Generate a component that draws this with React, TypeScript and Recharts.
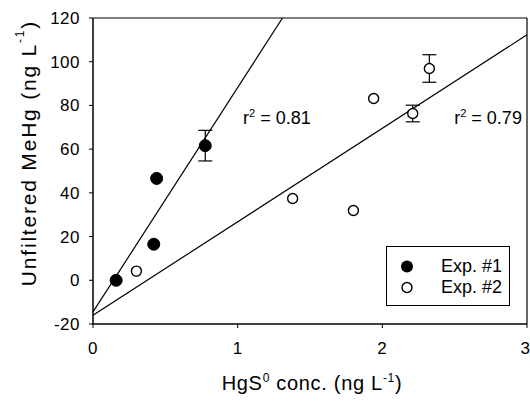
import React from 'react';
import { ScatterChart, Scatter, XAxis, YAxis, ErrorBar, ReferenceLine, ReferenceDot, Label } from 'recharts';

const exp1X = [0.16, 0.42, 0.44, 0.776];
const exp1Y = [0, 16.5, 46.6, 61.6];
const exp1Err = [0, 0, 0, 7];

const exp2X = [0.3, 1.38, 1.8, 1.94, 2.21, 2.325];
const exp2Y = [4.2, 37.4, 31.9, 83.2, 76.3, 96.9];
const exp2Err = [0, 0, 0, 0, 3.8, 6.3];

const fit1X = [0, 1.31];
const fit1Y = [-14.5, 120];
const fit2X = [0, 3];
const fit2Y = [-16, 112.3];

const r2Values = ['0.81', '0.79'];
const seriesNames = ['Exp. #1', 'Exp. #2'];

const xTicks = [0, 1, 2, 3];
const yTicks = [-20, 0, 20, 40, 60, 80, 100, 120];

const FONT = '"Liberation Sans", Arial, Helvetica, sans-serif';

const toPts = (xs: number[], ys: number[], errs?: number[]) =>
  xs.map((x, i) => ({ x, y: ys[i], err: errs ? errs[i] : 0 }));

const exp1 = toPts(exp1X, exp1Y, exp1Err);
const exp2 = toPts(exp2X, exp2Y, exp2Err);
const fit1 = toPts(fit1X, fit1Y);
const fit2 = toPts(fit2X, fit2Y);

const r2Anchors = [
  { x: 1.037, y: 74.3 },
  { x: 2.497, y: 74.3 },
];

const FilledDot = (p: any) => <circle cx={p.cx} cy={p.cy} r={6} fill="#000" stroke="#000" strokeWidth={1} />;
const OpenDot = (p: any) => <circle cx={p.cx} cy={p.cy} r={5} fill="#fff" stroke="#000" strokeWidth={1.4} />;
const NoDot = () => <g />;

const R2Text = (value: string) => (p: any) => (
  <text x={p.cx} y={p.cy + 6.5} fontFamily={FONT} fontSize={18} fill="#000" textAnchor="start">
    r<tspan dy={-7} fontSize={11}>2</tspan>
    <tspan dy={7}> = {value}</tspan>
  </text>
);

const tickStyle = { fontFamily: FONT, fontSize: 17, fill: '#000', letterSpacing: 0.5 };

export default function App() {
  return (
    <div style={{ position: 'absolute', left: 0, top: 0, width: 530, height: 402, background: '#fff' }}>
      <ScatterChart width={530} height={402} margin={{ top: 18, right: 3, bottom: 0, left: 0 }}>
        <XAxis
          type="number"
          dataKey="x"
          domain={[0, 3]}
          ticks={xTicks}
          allowDataOverflow
          axisLine={{ stroke: '#000', strokeWidth: 1.5 }}
          tickLine={{ stroke: '#000', strokeWidth: 1 }}
          tickSize={4}
          tickMargin={14}
          tick={tickStyle}
          height={78}
        >
          <Label
            content={() => (
              <text x={312} y={390} textAnchor="middle" fontFamily={FONT} fontSize={20} letterSpacing={0.7} fill="#000">
                HgS<tspan dy={-8} fontSize={12}>0</tspan>
                <tspan dy={8}> conc. (ng L</tspan>
                <tspan dy={-8} fontSize={12}>-1</tspan>
                <tspan dy={8}>)</tspan>
              </text>
            )}
          />
        </XAxis>
        <YAxis
          type="number"
          dataKey="y"
          domain={[-20, 120]}
          ticks={yTicks}
          allowDataOverflow
          width={93}
          axisLine={{ stroke: '#000', strokeWidth: 1.5 }}
          tickLine={{ stroke: '#000', strokeWidth: 1 }}
          tickSize={4}
          tickMargin={9}
          tick={tickStyle}
        >
          <Label
            content={() => (
              <text
                x={28}
                y={153}
                transform="rotate(-90 28 153)"
                textAnchor="middle"
                dominantBaseline="central"
                fontFamily={FONT}
                fontSize={21}
                letterSpacing={1.8}
                fill="#000"
              >
                Unfiltered MeHg (ng L<tspan dy={-8} fontSize={12}>-1</tspan>
                <tspan dy={8}>)</tspan>
              </text>
            )}
          />
        </YAxis>
        <ReferenceLine y={120} stroke="#000" strokeWidth={1.2} />
        <ReferenceLine x={3} stroke="#000" strokeWidth={1.2} />
        <Scatter data={fit1} dataKey="y" shape={NoDot} line={{ stroke: '#000', strokeWidth: 1.2 }} legendType="none" isAnimationActive={false} />
        <Scatter data={fit2} dataKey="y" shape={NoDot} line={{ stroke: '#000', strokeWidth: 1.2 }} legendType="none" isAnimationActive={false} />
        <Scatter name={seriesNames[0]} data={exp1} dataKey="y" shape={FilledDot} isAnimationActive={false}>
          <ErrorBar dataKey="err" direction="y" width={7} stroke="#000" strokeWidth={1.2} />
        </Scatter>
        <Scatter name={seriesNames[1]} data={exp2} dataKey="y" shape={OpenDot} isAnimationActive={false}>
          <ErrorBar dataKey="err" direction="y" width={7} stroke="#000" strokeWidth={1.2} />
        </Scatter>
        {r2Values.map((v, i) => (
          <ReferenceDot key={i} x={r2Anchors[i].x} y={r2Anchors[i].y} r={1} shape={R2Text(v)} />
        ))}
      </ScatterChart>
      <div
        style={{
          position: 'absolute',
          left: 386,
          top: 246,
          width: 124,
          height: 60,
          boxSizing: 'border-box',
          border: '1px solid #000',
          background: '#fff',
          fontFamily: FONT,
          fontSize: 18,
        }}
      >
        {seriesNames.map((n, i) => (
          <div key={n} style={{ position: 'absolute', left: 0, top: 9 + i * 21, height: 21, width: 122, display: 'flex', alignItems: 'center' }}>
            <svg width={40} height={21} style={{ display: 'block' }}>
              {i === 0 ? (
                <circle cx={20} cy={10.5} r={6} fill="#000" />
              ) : (
                <circle cx={20} cy={10.5} r={5} fill="#fff" stroke="#000" strokeWidth={1.4} />
              )}
            </svg>
            <span style={{ marginLeft: 14, lineHeight: '21px' }}>{n}</span>
          </div>
        ))}
      </div>
    </div>
  );
}
